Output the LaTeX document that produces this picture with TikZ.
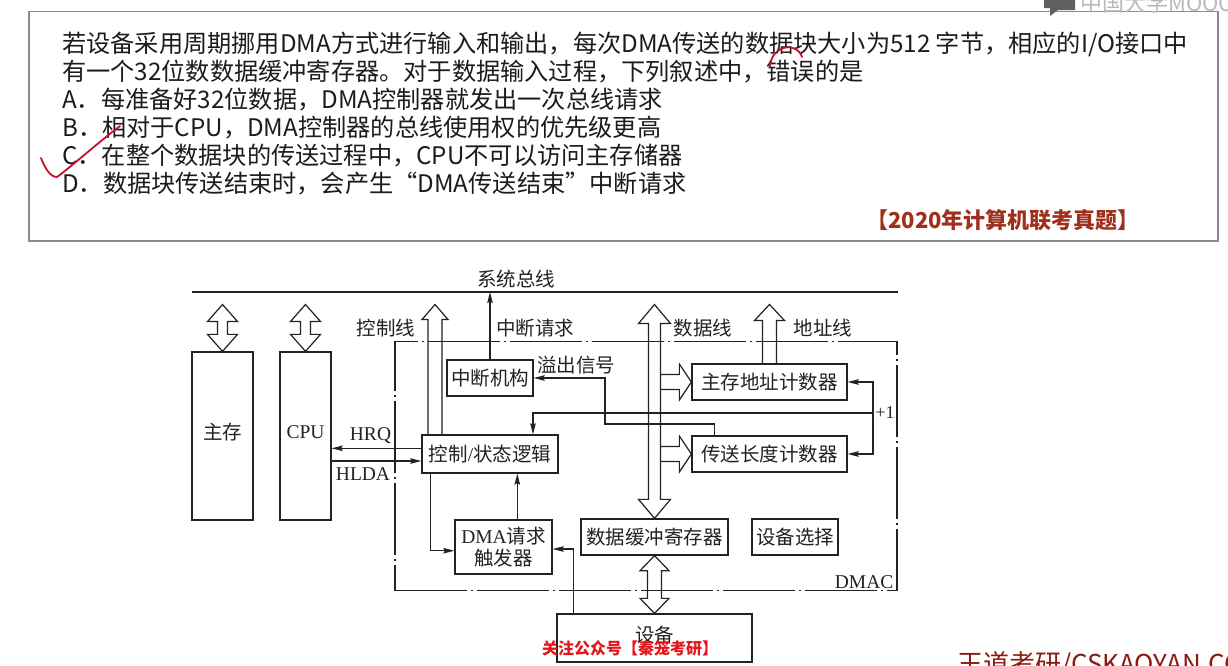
\documentclass[tikz,border=0pt]{standalone}
\usepackage{fontspec}
\usetikzlibrary{arrows.meta,calc}
\setmainfont{Liberation Serif}
\newfontfamily\qfont{Noto Sans CJK SC}
\newfontfamily\songti{Noto Sans CJK SC}
\newfontfamily\tms{Liberation Serif}

\definecolor{ink}{HTML}{222222}
\definecolor{qink}{HTML}{1C1C1C}
\definecolor{framegray}{HTML}{8C8C8C}
\definecolor{srcred}{HTML}{A0301C}
\definecolor{pen}{HTML}{C8102E}
\definecolor{wmred}{HTML}{E8141C}
\definecolor{wmdark}{HTML}{8B1A10}

\newcommand\dfont{\songti\fontsize{19.5}{22.6}\selectfont}
\newcommand\qsize{\qfont\fontsize{24.2}{28}\selectfont}
\newcommand\fw[1]{{\addfontfeature{RawFeature=+fwid}#1}}

% hollow bus arrows: (#1) base, (#2) tip level; #3 shaft half, #4 head half, #5 head length
\newcommand\hollowup[5]{%
  \draw[hollow] let \p1=(#1), \p2=(#2) in
    ({\x1-#3pt},\y1) -- ({\x1-#3pt},{\y2-#5pt}) -- ({\x1-#4pt},{\y2-#5pt}) -- (\x1,\y2)
    -- ({\x1+#4pt},{\y2-#5pt}) -- ({\x1+#3pt},{\y2-#5pt}) -- ({\x1+#3pt},\y1);}
\newcommand\hollowboth[5]{%
  \draw[hollow] let \p1=(#1), \p2=(#2) in
    ({\x1-#3pt},{\y1-#5pt}) -- ({\x1-#4pt},{\y1-#5pt}) -- (\x1,\y1) -- ({\x1+#4pt},{\y1-#5pt})
    -- ({\x1+#3pt},{\y1-#5pt}) -- ({\x1+#3pt},{\y2+#5pt}) -- ({\x1+#4pt},{\y2+#5pt}) -- (\x1,\y2)
    -- ({\x1-#4pt},{\y2+#5pt}) -- ({\x1-#3pt},{\y2+#5pt}) -- cycle;}
\newcommand\hollowright[5]{%
  \draw[hollow] let \p1=(#1), \p2=(#2) in
    (\x1,{\y2+#3pt}) -- ({\x2-#5pt},{\y2+#3pt}) -- ({\x2-#5pt},{\y2+#4pt}) -- (\x2,\y2)
    -- ({\x2-#5pt},{\y2-#4pt}) -- ({\x2-#5pt},{\y2-#3pt}) -- (\x1,{\y2-#3pt});}

\tikzset{
  box/.style={draw=ink, line width=1.3pt, inner sep=0pt, font=\dfont, text=ink},
  lbl/.style={font=\dfont, text=ink, inner sep=0pt},
  wire/.style={draw=ink, line width=1.3pt},
  sig/.style={wire, -{Stealth[length=11pt,width=5.5pt,inset=1.5pt]}},
  hollow/.style={draw=ink, line width=1.2pt, line join=miter},
  dmacframe/.style={draw=ink, line width=1.2pt, inner sep=0pt,
    dash pattern=on 72pt off 4pt on 2pt off 4pt},
  qline/.style={font=\qsize, text=qink, inner sep=0pt, anchor=base west},
  penmark/.style={draw=pen, line width=1.8pt, line cap=round, line join=round},
}

\begin{document}
\begin{tikzpicture}[x=1pt,y=-1pt]
\useasboundingbox (0,0) rectangle (1228,665);
\fill[white] (0,0) rectangle (1228,665);

% ---------- question ----------
\node[draw=framegray, line width=1.3pt, inner sep=0pt, minimum width=1189pt,
      minimum height=229.5pt] (qbox) at (623.5,126.25) {};
\node[qline] (q1) at (62,52.5) {若设备采用周期挪用DMA方式进行输入和输出，每次DMA传送的数据块大小为512 字节，相应的I/O接口中};
\node[qline] (q2) at (62,80.4) {有一个32位数数据缓冲寄存器。对于数据输入过程，下列叙述中，错误的是};
\node[qline] (qa) at (62,108.3) {A．每准备好32位数据，DMA控制器就发出一次总线请求};
\node[qline] (qb) at (62,136.3) {B．相对于CPU，DMA控制器的总线使用权的优先级更高};
\node[qline] (qc) at (62,164.2) {C．在整个数据块的传送过程中，CPU不可以访问主存储器};
\node[qline] (qd) at (62,192.1) {D．数据块传送结束时，会产生\fw{“}DMA传送结束\fw{”}中断请求};
\node[font=\qfont\fontsize{22}{24}\selectfont\bfseries, text=srcred, inner sep=0pt,
      anchor=base] (src) at (1003,228.4) {【2020年计算机联考真题】};

% hand-written marks
\draw[penmark] (41,158) .. controls (45,168) and (50,177) .. (57,177)
               .. controls (72,166) and (100,141) .. (120,126);
\draw[penmark] (770,67) .. controls (771,45) and (797,41) .. (802,57);

% logo in the corner
\fill[gray!75!black] (1044,0) -- (1075,0) -- (1075,10) -- (1058,10) -- (1050,16) -- (1050,8) -- (1044,8) -- cycle;
\node[font=\qfont\fontsize{22}{24}\selectfont, text=gray!55, inner sep=0pt, anchor=base west]
  (mooc) at (1080,11) {中国大学MOOC};

% ---------- system bus ----------
\coordinate (busL) at (191.7,292);
\coordinate (busR) at (898,292);
\coordinate (hT) at (0,304.5);
\draw[wire] (busL) -- (busR);
\node[lbl] (busname) at (516,279) {系统总线};

% ---------- blocks ----------
\node[box, minimum width=61pt, minimum height=168pt] (mem) at (222.5,436) {};
\node[lbl] (memname) at ([yshift=4pt]mem.center) {主存};
\node[box, minimum width=51pt, minimum height=168pt] (cpu) at (305.5,436) {};
\node[lbl, font=\tms\fontsize{19.5}{22}\selectfont] (cpuname) at ([yshift=4pt]cpu.center) {CPU};

\node[dmacframe, minimum width=502pt, minimum height=249pt] (dmac) at (646,466.2) {};
\node[lbl, font=\tms\fontsize{19.5}{22}\selectfont, anchor=base east] (dmacname)
  at ([xshift=-4pt,yshift=3pt]dmac.south east) {DMAC};

\node[box, minimum width=136pt, minimum height=38pt] (ctrl) at (490,454) {控制{\tms/}状态逻辑};
\node[box, minimum width=86pt, minimum height=36pt] (intr) at (490,378) {中断机构};
\node[box, minimum width=155pt, minimum height=36pt] (addr) at (769.5,382) {主存地址计数器};
\node[box, minimum width=155pt, minimum height=36pt] (len) at (769.5,454) {传送长度计数器};
\node[box, minimum width=97pt, minimum height=54pt, align=center] (dmareq) at (503.5,547)
  {{\tms DMA}请求\\触发器};
\node[box, minimum width=147pt, minimum height=36pt] (buf) at (654.5,537) {数据缓冲寄存器};
\node[box, minimum width=86pt, minimum height=36pt] (sel) at (795,537) {设备选择};
\node[box, minimum width=195pt, minimum height=48pt] (dev) at (654.5,638) {};
\node[lbl] (devname) at ([yshift=3pt]dev.center) {设备};

% ---------- hollow bus arrows ----------
\hollowboth{mem.north |- hT}{mem.north}{5}{15}{17}
\hollowboth{cpu.north |- hT}{cpu.north}{5}{15}{17}
\coordinate (cl) at ([xshift=-55pt]ctrl.north);
\hollowup{cl}{cl |- hT}{7}{13}{15}
\hollowboth{buf.north |- hT}{buf.north}{6}{16}{19}
\hollowright{[xshift=6pt]buf.north |- addr.west}{addr.west}{7.5}{18}{12}
\hollowright{[xshift=6pt]buf.north |- len.west}{len.west}{7.5}{18}{12}
\hollowup{addr.north}{addr.north |- hT}{7}{15}{16}
\hollowboth{buf.south}{dev.north}{7}{14.5}{15}

% ---------- bus labels ----------
\node[lbl] (ctlline) at (386,328) {控制线};
\node[lbl] (irqname) at (535,328) {中断请求};
\node[lbl] (dataline) at (703,328) {数据线};
\node[lbl] (addrline) at (823,328) {地址线};
\node[lbl] (ovfname) at (576,365) {溢出信号};
\node[lbl, font=\tms\fontsize{19.5}{22}\selectfont] (hrq) at (370.5,436) {HRQ};
\node[lbl, font=\tms\fontsize{19.5}{22}\selectfont] (hlda) at (363,474) {HLDA};
\node[lbl, font=\tms\fontsize{18}{20}\selectfont] (inc1) at (885,413) {+1};

% ---------- signal lines ----------
\draw[sig] (intr.north) -- (intr.north |- busL);
\coordinate (ovA) at (605,424);
\draw[sig] ([xshift=23.4pt]len.north west) |- (ovA) |- (intr.east);
\coordinate (inc) at (873,413);
\draw[sig] (inc) |- (addr.east);
\draw[sig] (inc) |- (len.east);
\draw[sig] (inc) -| ([xshift=43pt]ctrl.north);
\draw[sig] ([yshift=5.7pt]ctrl.west) -- ([yshift=5.7pt]ctrl.west -| cpu.east);
\draw[sig] ([yshift=-7pt]ctrl.west -| cpu.east) -- ([yshift=-7pt]ctrl.west);
\draw[sig] ([xshift=9pt]ctrl.south west) |- ([yshift=-3.7pt]dmareq.west);
\draw[sig] ([xshift=17.3pt]dev.north west) |- ([yshift=-2pt]dmareq.east);
\draw[sig] ([xshift=13.8pt]dmareq.north) -- ([xshift=13.8pt]dmareq.north |- ctrl.south);

% ---------- overlays ----------
\node[font=\qfont\fontsize{16}{18}\selectfont\bfseries, text=wmred, inner sep=0pt, anchor=base]
  (wm1) at (630,654) {关注公众号【秦笼考研】};
\node[font=\qfont\fontsize{26}{28}\selectfont, text=wmdark, inner sep=0pt, anchor=base west]
  (wm2) at (957,673) {王道考研/CSKAOYAN.COM};
\end{tikzpicture}
\end{document}
